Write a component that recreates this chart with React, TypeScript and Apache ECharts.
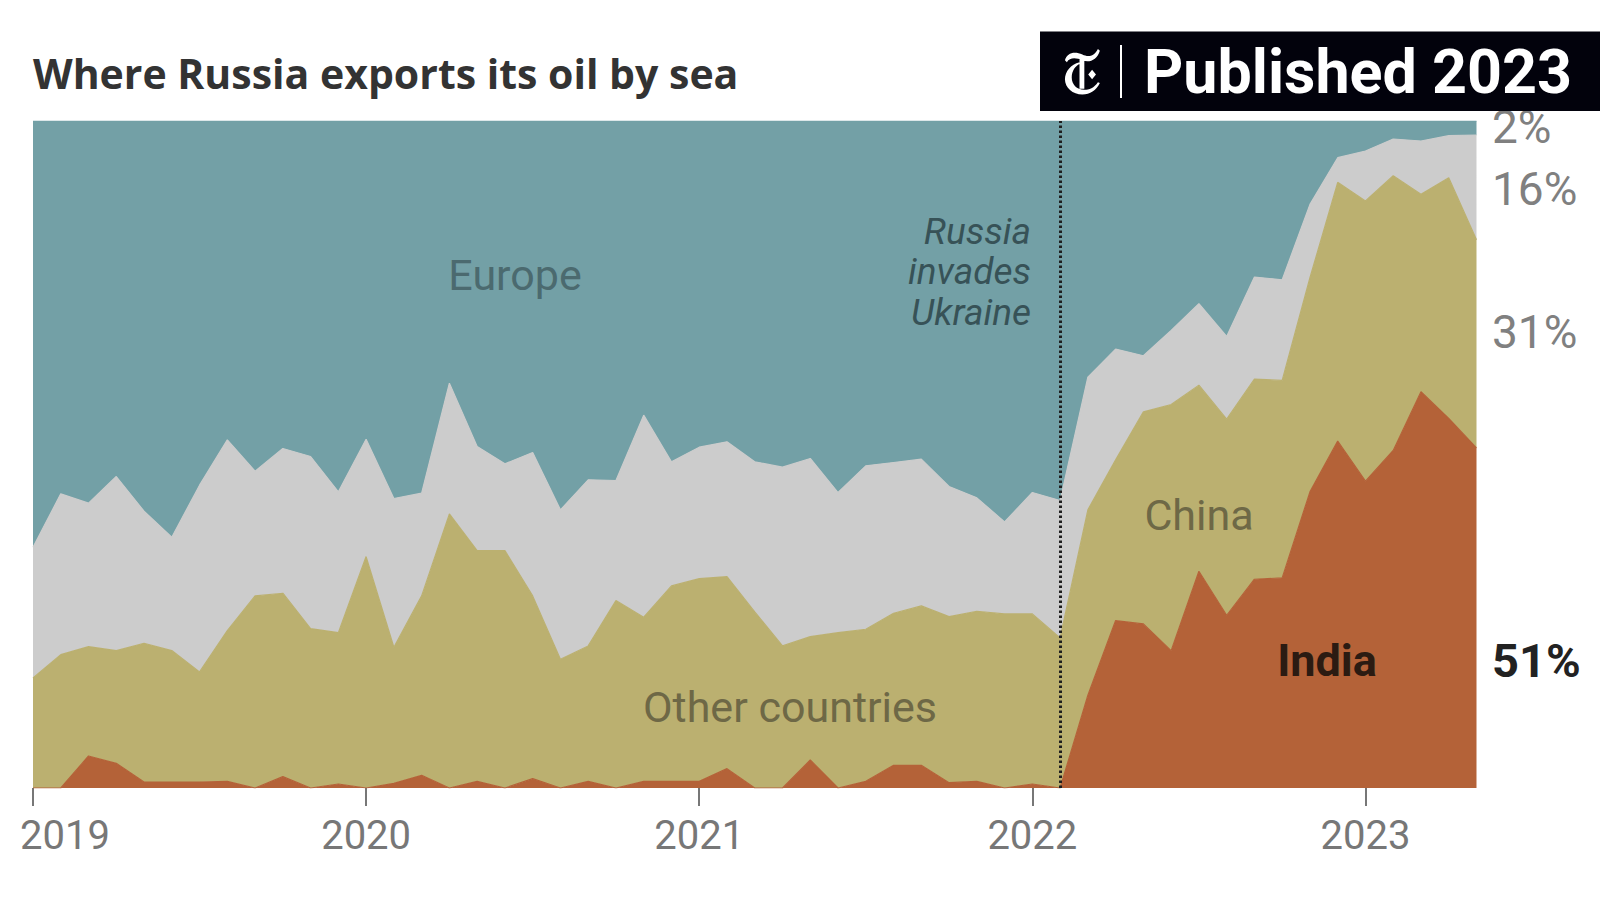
import React, { useEffect, useRef } from "react";
import * as echarts from "echarts";

// Monthly categories, Jan 2019 – May 2023
const months = [
  "2019-01", "2019-02", "2019-03", "2019-04", "2019-05", "2019-06", "2019-07", "2019-08", "2019-09", "2019-10", "2019-11", "2019-12",
  "2020-01", "2020-02", "2020-03", "2020-04", "2020-05", "2020-06", "2020-07", "2020-08", "2020-09", "2020-10", "2020-11", "2020-12",
  "2021-01", "2021-02", "2021-03", "2021-04", "2021-05", "2021-06", "2021-07", "2021-08", "2021-09", "2021-10", "2021-11", "2021-12",
  "2022-01", "2022-02", "2022-03", "2022-04", "2022-05", "2022-06", "2022-07", "2022-08", "2022-09", "2022-10", "2022-11", "2022-12",
  "2023-01", "2023-02", "2023-03", "2023-04", "2023-05",
];

// Share of seaborne exports (%)
const india = [
  0, 0, 4.8, 3.7, 0.9, 0.9, 0.9, 1.0, 0, 1.7, 0, 0.6,
  0, 0.7, 1.9, 0, 1.0, 0, 1.4, 0, 1.0, 0, 1.0, 1.0,
  1.0, 2.9, 0, 0, 4.2, 0, 1.0, 3.4, 3.4, 0.8, 1.0, 0,
  0.6, 0, 13.9, 25.1, 24.6, 20.6, 32.5, 25.9, 31.3, 31.5, 44.4, 52.0,
  46.0, 50.6, 59.4, 55.4, 51.0,
];
const chinaAndOthers = [
  16.5, 20.0, 16.4, 16.9, 20.8, 19.7, 16.5, 22.6, 28.8, 27.5, 23.9, 22.7,
  34.7, 20.4, 26.9, 41.1, 34.6, 35.6, 27.4, 19.3, 20.3, 28.1, 24.6, 29.3,
  30.4, 28.8, 26.4, 21.3, 18.5, 23.3, 22.8, 22.8, 23.9, 24.9, 25.5, 26.1,
  25.5, 22.5, 27.8, 24.1, 31.8, 36.9, 27.9, 29.4, 30.0, 29.6, 32.1, 38.8,
  42.0, 41.2, 29.6, 36.1, 31.2,
];
const unknownDest = [
  19.6, 24.1, 21.5, 26.1, 19.8, 17.0, 28.0, 28.6, 18.7, 21.7, 25.8, 21.1,
  17.6, 22.3, 15.4, 19.6, 15.6, 13.0, 21.5, 22.4, 24.9, 18.0, 30.3, 18.6,
  19.7, 20.2, 22.5, 26.8, 26.7, 21.0, 24.5, 22.6, 22.0, 19.5, 17.0, 13.8,
  18.2, 20.6, 19.9, 16.6, 8.4, 11.1, 12.2, 12.4, 15.3, 15.1, 11.0, 3.7,
  7.5, 5.5, 8.0, 6.3, 15.7,
];
const europe = [
  63.9, 55.9, 57.3, 53.3, 58.5, 62.4, 54.6, 47.8, 52.5, 49.1, 50.3, 55.6,
  47.7, 56.6, 55.8, 39.3, 48.8, 51.4, 49.7, 58.3, 53.8, 53.9, 44.1, 51.1,
  48.9, 48.1, 51.1, 51.9, 50.6, 55.7, 51.7, 51.2, 50.7, 54.8, 56.5, 60.1,
  55.7, 56.9, 38.4, 34.2, 35.2, 31.4, 27.4, 32.3, 23.4, 23.8, 12.5, 5.5,
  4.5, 2.7, 3.0, 2.2, 2.1,
];

const yearLabels = ["2019", "2020", "2021", "2022", "2023"];
const invasionMonth = "2022-02";
const endShareLabels = ["2%", "16%", "31%", "51%"];

const COLORS = {
  india: "#b46238",
  khaki: "#bbb070",
  gray: "#cccccc",
  europe: "#73a0a6",
};

const NYT_T =
  "M2,14 C4,6 12,4 20,8 C26,11 32,10 36,2 L38,4 C35,14 27,17 20,14 C13,11 7,11 4,16 Z " +
  "M17,18 C13,20 9,25 9,32 C9,39 14,45 22,45 C27,45 32,43 36,37 L38,38 C34,46 28,50 20,50 C10,50 2,43 2,34 C2,26 8,18 17,16 Z " +
  "M17,12 L22,12 L22,44 L17,44 Z " +
  "M30,24 L34,29 L30,34 L26,29 Z";

let registered = false;
function ensureShape() {
  if (registered) return;
  echarts.graphic.registerShape("nytT", echarts.graphic.extendPath(NYT_T, {}) as any);
  registered = true;
}

function areaSeries(name: string, data: number[], color: string, extra: any = {}) {
  return {
    name,
    type: "line",
    stack: "share",
    data,
    symbol: "none",
    showSymbol: false,
    silent: true,
    lineStyle: { width: 1.2, color },
    itemStyle: { color },
    areaStyle: { color, opacity: 1 },
    emphasis: { disabled: true },
    ...extra,
  };
}

function txt(text: string, x: number, y: number, opts: any = {}) {
  const align = opts.align || "left";
  return {
    type: "text",
    x,
    y,
    z: opts.z ?? 50,
    silent: true,
    style: {
      text,
      fill: opts.fill || "#333",
      fontSize: opts.fontSize || 40,
      fontFamily: opts.fontFamily || "Roboto",
      fontWeight: opts.fontWeight || "normal",
      fontStyle: opts.fontStyle || "normal",
      align,
      textAlign: align,
      verticalAlign: "middle",
      textVerticalAlign: "middle",
    },
  };
}

export default function App() {
  const ref = useRef<HTMLDivElement>(null);

  useEffect(() => {
    document.body.style.margin = "0";
    ensureShape();
    const chart = echarts.init(ref.current!, null, { renderer: "svg" });

    const option: any = {
      animation: false,
      backgroundColor: "#ffffff",
      grid: { left: 33, right: 123.5, top: 121, bottom: 114, containLabel: false },
      xAxis: {
        type: "category",
        data: months,
        boundaryGap: false,
        axisLine: { show: false },
        splitLine: { show: false },
        axisTick: {
          show: true,
          interval: (i: number) => i % 12 === 0,
          length: 18,
          lineStyle: { color: "#777777", width: 2 },
        },
        axisLabel: {
          interval: (i: number) => i % 12 === 0,
          margin: 27,
          color: "#777777",
          fontSize: 40,
          fontFamily: "Roboto",
          formatter: (_v: string, i: number) => {
            const lbl = yearLabels[Math.round(i / 12)] ?? "";
            return i === 0 ? `{first|${lbl}}` : lbl;
          },
          rich: {
            first: { padding: [0, 0, 0, 64], fontSize: 40, color: "#777777", fontFamily: "Roboto" },
          },
        },
      },
      yAxis: { type: "value", min: 0, max: 100, show: false },
      series: [
        areaSeries("India", india, COLORS.india),
        areaSeries("China and other countries", chinaAndOthers, COLORS.khaki),
        areaSeries("Unknown", unknownDest, COLORS.gray),
        areaSeries("Europe", europe, COLORS.europe, {
          markLine: {
            silent: true,
            symbol: "none",
            animation: false,
            label: { show: false },
            lineStyle: { type: [2.6, 2.4], color: "#1e1e1e", width: 3 },
            data: [{ xAxis: invasionMonth }],
          },
        }),
      ],
      graphic: {
        elements: [
          txt("Where Russia exports its oil by sea", 33, 73, {
            fontFamily: "Open Sans", fontWeight: "bold", fontSize: 41, fill: "#333333",
          }),
          // right-end shares
          txt(endShareLabels[0], 1492, 127, { fontSize: 46, fill: "#808080", z: 40 }),
          txt(endShareLabels[1], 1492, 189, { fontSize: 46, fill: "#808080" }),
          txt(endShareLabels[2], 1492, 332, { fontSize: 46, fill: "#808080" }),
          txt(endShareLabels[3], 1492, 660, { fontSize: 47, fill: "#222222", fontWeight: "bold" }),
          // in-chart labels
          txt("Europe", 515, 275, { fontSize: 43, fill: "#4b6a6f", align: "center" }),
          txt("Russia", 1031, 231, { fontSize: 37, fill: "#375257", fontStyle: "italic", align: "right" }),
          txt("invades", 1031, 271.5, { fontSize: 37, fill: "#375257", fontStyle: "italic", align: "right" }),
          txt("Ukraine", 1031, 312, { fontSize: 37, fill: "#375257", fontStyle: "italic", align: "right" }),
          txt("China", 1199, 515, { fontSize: 43, fill: "#6e6846", align: "center" }),
          txt("Other countries", 790, 707, { fontSize: 43, fill: "#6e6846", align: "center" }),
          txt("India", 1327, 660, { fontSize: 45, fill: "#2b1b12", fontWeight: "bold", align: "center" }),
          // Published badge
          {
            type: "rect",
            z: 100,
            silent: true,
            shape: { x: 1040, y: 31.5, width: 560, height: 79.5 },
            style: { fill: "#02020c" },
          },
          {
            type: "nytT",
            z: 101,
            silent: true,
            x: 1063,
            y: 47,
            scaleX: 0.97,
            scaleY: 0.95,
            style: { fill: "#ffffff" },
          },
          {
            type: "rect",
            z: 101,
            silent: true,
            shape: { x: 1120, y: 45, width: 2, height: 53 },
            style: { fill: "#ffffff" },
          },
          txt("Published 2023", 1144, 72, {
            fontSize: 61, fill: "#ffffff", fontWeight: "bold", z: 101,
          }),
        ],
      },
    };

    chart.setOption(option);
    return () => chart.dispose();
  }, []);

  return (
    <div
      ref={ref}
      style={{ position: "absolute", left: 0, top: 0, width: 1600, height: 902 }}
    />
  );
}
